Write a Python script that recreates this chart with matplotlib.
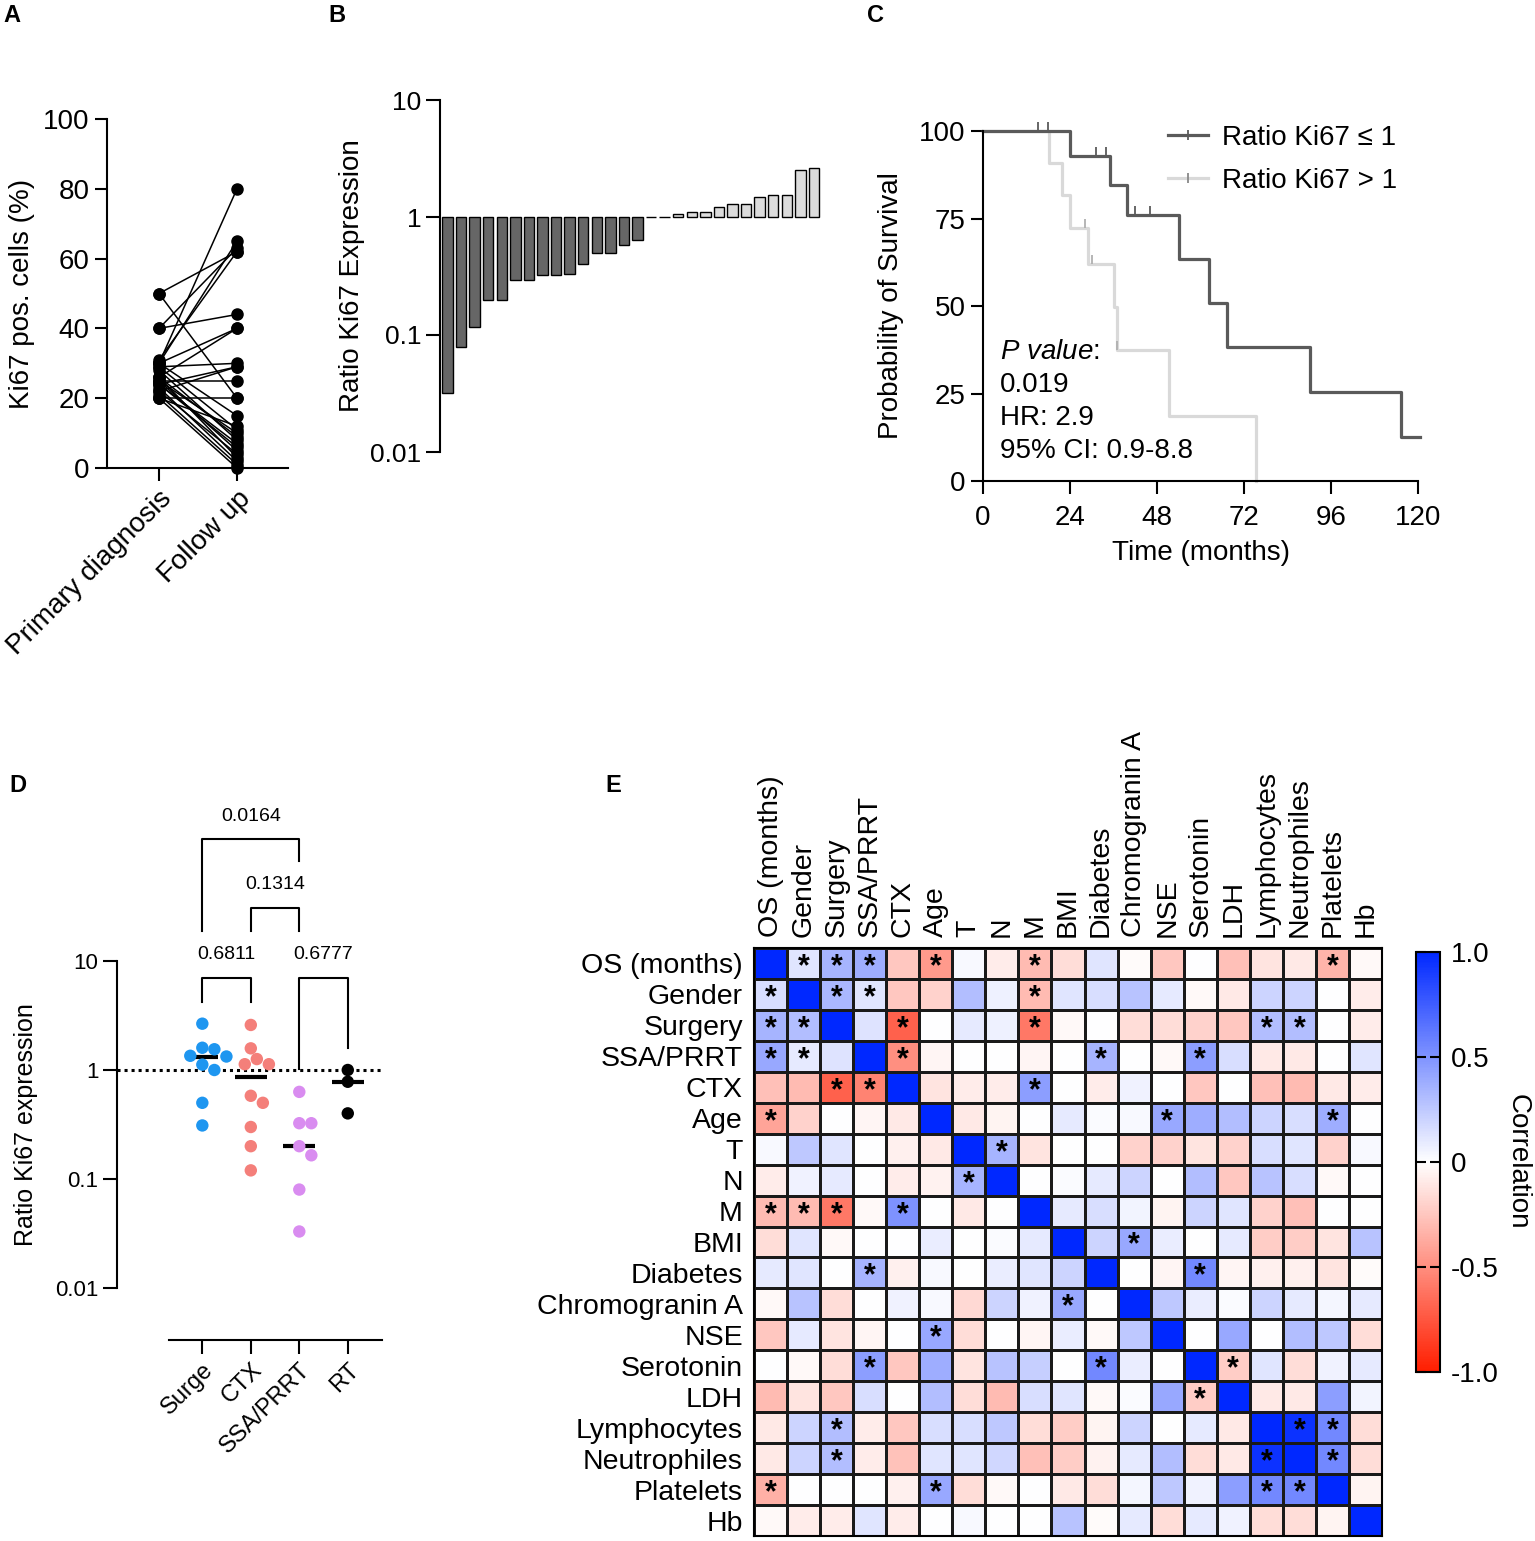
import matplotlib
matplotlib.use('Agg')
import matplotlib.pyplot as plt
from matplotlib.colors import LinearSegmentedColormap
from matplotlib.lines import Line2D
from matplotlib.ticker import NullLocator
import numpy as np

plt.rcParams['font.family'] = ['Liberation Sans', 'DejaVu Sans']
plt.rcParams['mathtext.fontset'] = 'custom'
plt.rcParams['mathtext.it'] = 'Liberation Sans:italic'
plt.rcParams['mathtext.rm'] = 'Liberation Sans'

W, H = 1535, 1541

# ---- A: paired Ki67 values
ki67_primary = [50, 50, 40, 40, 31, 30, 30, 30, 29, 29, 28, 26, 26, 25,
                25, 25, 24, 24, 23, 22, 22, 21, 20, 20, 20, 30, 26, 24]
ki67_followup = [62, 20, 44, 63, 62, 80, 65, 40, 30, 11, 8, 40, 3, 25,
                 10, 5, 29, 6, 2, 29, 4, 1, 20, 0, 12, 15, 9, 7]
a_labels = ['Primary diagnosis', 'Follow up']

# ---- B: waterfall of ratios
ratio_sorted = [0.032, 0.078, 0.116, 0.197, 0.197, 0.294, 0.294, 0.32, 0.32,
                0.33, 0.40, 0.50, 0.50, 0.58, 0.64, 1.0, 1.0, 1.07, 1.12,
                1.12, 1.23, 1.30, 1.30, 1.48, 1.56, 1.56, 2.55, 2.63]

# ---- C: Kaplan-Meier
km_low_t = [0, 24, 35, 39.7, 54.2, 62.3, 67.4, 90.3, 115.4, 120.5]
km_low_s = [100, 93, 84.5, 76, 63.5, 50.8, 38.2, 25.3, 12.6, 12.6]
km_low_cens_t = [15.2, 18, 31.2, 34, 42, 46]
km_low_cens_s = [100, 100, 93, 93, 76, 76]
km_high_t = [0, 18.3, 21.7, 24, 29, 36.2, 36.9, 51.2, 75.2]
km_high_s = [100, 90.8, 81.6, 72.3, 62, 49.6, 37.4, 18.6, 0]
km_high_cens_t = [28.2, 30.2, 37.1]
km_high_cens_s = [72.3, 62, 37.4]
km_stats = ['0.019', 'HR: 2.9', '95% CI: 0.9-8.8']

# ---- D: ratio by treatment
treat_groups = ['Surge', 'CTX', 'SSA/PRRT', 'RT']
ratio_surgery = [2.66, 1.6, 1.55, 1.35, 1.33, 1.12, 1.0, 0.5, 0.31]
ratio_ctx = [2.59, 1.58, 1.26, 1.13, 1.13, 0.58, 0.50, 0.30, 0.20, 0.12]
ratio_ssa = [0.63, 0.325, 0.325, 0.20, 0.165, 0.08, 0.033]
ratio_rt = [1.0, 0.78, 0.40]
treat_colors = ['#1e96f0', '#f47f7a', '#d98cf0', '#000000']
comparisons = [(0, 2, '0.0164'), (1, 2, '0.1314'), (0, 1, '0.6811'), (2, 3, '0.6777')]
# bracket layout: top, left leg end, right leg end, label height
bracket_top = [131.6, 30.6, 6.98, 6.98]
bracket_left = [18.8, 18.8, 4.2, 1.02]
bracket_right = [82.7, 18.8, 4.2, 1.59]
bracket_text = [10 ** 2.33, 10 ** 1.706, 10 ** 1.06, 10 ** 1.06]

# ---- E: correlation matrix
corr_labels = ['OS (months)', 'Gender', 'Surgery', 'SSA/PRRT', 'CTX', 'Age', 'T', 'N',
               'M', 'BMI', 'Diabetes', 'Chromogranin A', 'NSE', 'Serotonin', 'LDH',
               'Lymphocytes', 'Neutrophiles', 'Platelets', 'Hb']
corr = [
    [1, .12, .35, .38, -.25, -.45, .03, -.08, -.3, -.15, .12, -.02, -.25, 0, -.28, -.12, -.1, -.33, -.03],
    [.15, 1, .33, .12, -.25, -.2, .3, .07, -.3, .12, .15, .28, .1, -.03, -.1, .2, .2, 0, -.08],
    [.35, .3, 1, .13, -.7, 0, .1, .07, -.6, -.03, 0, -.15, -.15, -.2, -.25, .3, .3, 0, -.08],
    [.4, .1, .13, 1, -.5, -.04, 0, 0, -.04, 0, .35, 0, -.03, .45, .15, -.1, -.1, 0, .12],
    [-.28, -.3, -.7, -.55, 1, -.12, -.08, -.08, .45, 0, -.08, .06, 0, -.25, 0, -.28, -.3, -.1, -.08],
    [-.4, -.2, 0, -.04, -.1, 1, -.1, -.05, 0, .1, .02, .03, .4, .38, .3, .2, .15, .38, 0],
    [.03, .25, .12, 0, -.07, -.1, 1, .35, -.12, 0, 0, -.2, -.2, -.12, -.2, .15, .12, -.2, .03],
    [-.08, .06, .1, 0, -.08, -.06, .35, 1, 0, .02, .1, .2, 0, .3, -.25, .28, .15, -.03, 0],
    [-.3, -.3, -.6, -.03, .5, 0, -.1, 0, 1, .1, .15, .05, -.05, .2, .12, -.2, -.28, 0, 0],
    [-.15, .12, -.03, 0, 0, .08, 0, .02, .1, 1, .2, .4, .08, 0, .1, -.22, -.22, -.12, .28],
    [.1, .12, 0, .35, -.07, .03, 0, .08, .12, .2, 1, 0, -.04, .55, -.04, -.07, -.07, -.12, -.02],
    [-.03, .28, -.15, 0, .06, .03, -.17, .2, .06, .4, 0, 1, .25, .08, .02, .2, .1, .04, .1],
    [-.25, .1, -.12, -.04, 0, .4, -.15, 0, -.04, .08, -.03, .25, 1, 0, .4, 0, .3, .25, -.15],
    [0, -.03, -.15, .45, -.25, .38, -.12, .28, .22, 0, .55, .08, 0, 1, -.22, .12, -.15, .06, .1],
    [-.3, -.12, -.25, .15, 0, .3, -.15, -.3, .15, .12, -.03, .02, .4, -.22, 1, -.1, -.1, .45, .05],
    [-.1, .2, .3, -.08, -.25, .15, .15, .25, -.15, -.22, -.05, .2, 0, .1, -.1, 1, .95, .55, -.15],
    [-.1, .2, .3, -.08, -.27, .12, .12, .18, -.28, -.22, -.06, .1, .3, -.15, -.1, .95, 1, .55, -.15],
    [-.35, 0, 0, 0, -.07, .4, -.15, -.03, 0, -.1, -.15, .04, .25, .06, .45, .55, .55, 1, -.05],
    [-.03, -.08, -.08, .12, -.08, 0, .03, 0, 0, .28, -.02, .1, -.15, .1, .06, -.15, -.15, -.05, 1],
]
corr_sig = [[1, 2, 3, 5, 8, 17], [0, 2, 3, 8], [0, 1, 4, 8, 15, 16], [0, 1, 4, 10, 13],
            [2, 3, 8], [0, 12, 17], [7], [6], [0, 1, 2, 4], [11], [3, 13], [9], [5],
            [3, 10, 14], [13], [2, 16, 17], [2, 15, 17], [0, 5, 15, 16], []]


fig = plt.figure(figsize=(W / 100, H / 100), dpi=100)


def px_axes(l, t, r, b):
    return fig.add_axes([l / W, 1 - b / H, (r - l) / W, (b - t) / H])


def style(ax, lw=1.5):
    for s in ['top', 'right']:
        ax.spines[s].set_visible(False)
    for s in ['left', 'bottom']:
        ax.spines[s].set_linewidth(lw)


# ---------------- A
axA = px_axes(107, 119, 288, 468)
for p, f in zip(ki67_primary, ki67_followup):
    axA.plot([0, 1], [p, f], color='k', lw=1.1, marker='o', ms=8, clip_on=False)
axA.set_xlim(-0.667, 1.654)
axA.set_ylim(0, 100)
axA.set_yticks([0, 20, 40, 60, 80, 100])
axA.set_xticks([0, 1])
axA.set_xticklabels(a_labels, rotation=45, ha='right', rotation_mode='anchor')
axA.tick_params(length=9, width=1.5, labelsize=20)
axA.set_ylabel('Ki67 pos. cells (%)', fontsize=20, labelpad=6)
style(axA)

# ---------------- B
axB = px_axes(440, 100, 822, 452)
xb = np.arange(len(ratio_sorted))
bcol = ['#666666' if r < 1 else '#dcdcdc' for r in ratio_sorted]
axB.bar(xb, np.array(ratio_sorted) - 1, bottom=1, width=0.77, color=bcol,
        edgecolor='black', linewidth=1)
axB.set_yscale('log')
axB.set_ylim(0.01, 10)
axB.set_xlim(-0.556, 27.6)
axB.yaxis.set_minor_locator(NullLocator())
axB.set_yticks([0.01, 0.1, 1, 10])
axB.set_yticklabels(['0.01', '0.1', '1', '10'])
axB.set_xticks([])
axB.spines['bottom'].set_visible(False)
axB.tick_params(length=10, width=1.5, labelsize=19)
axB.set_ylabel('Ratio Ki67 Expression', fontsize=20)
style(axB)

# ---------------- C
axC = px_axes(983, 131, 1418, 481)
dark, light = '#5a5a5a', '#d9d9d9'
axC.step(km_high_t, km_high_s, where='post', color=light, lw=2.3, clip_on=False)
axC.step(km_low_t, km_low_s, where='post', color=dark, lw=2.3, clip_on=False)
axC.vlines(km_low_cens_t, km_low_cens_s, np.array(km_low_cens_s) + 2.5, color=dark, lw=1.3,
           clip_on=False)
axC.vlines(km_high_cens_t, km_high_cens_s, np.array(km_high_cens_s) + 2.5, color='#b0b0b0',
           lw=1.3, clip_on=False)
axC.set_xlim(0, 120)
axC.set_ylim(0, 100)
axC.set_xticks([0, 24, 48, 72, 96, 120])
axC.set_yticks([0, 25, 50, 75, 100])
axC.tick_params(length=9, width=1.5, labelsize=20)
axC.tick_params(axis='x', pad=8)
axC.set_xlabel('Time (months)', fontsize=20, labelpad=7)
axC.set_ylabel('Probability of Survival', fontsize=20, labelpad=11)
style(axC)
handles = [Line2D([], [], color=dark, lw=2.3, marker='|', ms=7, mew=1.3),
           Line2D([], [], color=light, lw=2.3, marker='|', ms=7, mew=1.3, mec='#888888')]
fig.legend(handles, ['Ratio Ki67 \u2264 1', 'Ratio Ki67 > 1'], loc='upper left',
           bbox_to_anchor=(1168 / W, 1 - 125 / H), bbox_transform=fig.transFigure,
           frameon=False, fontsize=20, handlelength=1.45, handletextpad=0.5,
           borderpad=0, borderaxespad=0, labelspacing=0.6)
axC.text(4.7, 36.9, r'$\it{P\ value}$:', fontsize=20, va='center')
for k, s in enumerate(km_stats):
    axC.text(4.7, 36.9 - (k + 1) * 9.45, s, fontsize=20, va='center')

# ---------------- D
axD = px_axes(117, 797, 382, 1340)
axD.set_yscale('log')
axD.set_ylim(10 ** (-270 / 109), 10 ** (273 / 109))
axD.set_xlim(-1.76, 3.706)
axD.axhline(1, color='k', lw=2.2, ls=(0, (1, 1.3)), zorder=1)
px_x, px_dec, diam = 48.3, 109.0, 12.0
groups = [ratio_surgery, ratio_ctx, ratio_ssa, ratio_rt]
for gi, vals in enumerate(groups):
    placed = []
    xs = []
    for v in vals:
        y = np.log10(v) * px_dec
        for k in [0, 1, -1, 2, -2, 3, -3, 4, -4]:
            x = k * diam * 0.5
            if all((x - px) ** 2 + (y - py) ** 2 >= (diam * 0.92) ** 2 for px, py in placed):
                break
        placed.append((x, y))
        xs.append(gi + x / px_x)
    axD.hlines(np.median(vals), gi - 0.33, gi + 0.33, color='k', lw=3, zorder=2)
    axD.scatter(xs, vals, s=80, color=treat_colors[gi], edgecolors='none', zorder=3)
for (i, j, txt), top, yl, yr, yt in zip(comparisons, bracket_top, bracket_left,
                                         bracket_right, bracket_text):
    axD.plot([i, i, j, j], [yl, top, top, yr], color='k', lw=1.5, clip_on=False)
    axD.text((i + j) / 2, yt, txt, ha='center', va='center', fontsize=14)
axD.yaxis.set_minor_locator(NullLocator())
axD.set_yticks([0.01, 0.1, 1, 10])
axD.set_yticklabels(['0.01', '0.1', '1', '10'])
axD.set_xticks(range(len(treat_groups)))
axD.set_xticklabels(treat_groups, rotation=45, ha='right', rotation_mode='anchor')
axD.tick_params(length=10, width=1.5, labelsize=16)
axD.tick_params(axis='x', labelsize=17)
style(axD)
axD.spines['left'].set_bounds(0.01, 10)
axD.spines['bottom'].set_bounds(-0.683, 3.706)
axD.set_ylabel('Ratio Ki67 expression', fontsize=18)
axD.yaxis.set_label_coords(-0.30, 0.396)

# ---------------- E
cmap = LinearSegmentedColormap.from_list('rwb', ['#ff1e00', '#ffffff', '#0028ff'])
axE = px_axes(754, 948, 1382, 1536)
n = len(corr_labels)
mesh = axE.pcolormesh(np.arange(n + 1), np.arange(n + 1), np.array(corr), cmap=cmap,
                      vmin=-1, vmax=1, edgecolors='#1a1a1a', linewidth=1.0)
axE.set_xlim(0, n)
axE.set_ylim(n, 0)
axE.xaxis.tick_top()
axE.set_xticks(np.arange(n) + 0.5)
axE.set_xticklabels(corr_labels, rotation=90)
axE.set_yticks(np.arange(n) + 0.5)
axE.set_yticklabels(corr_labels)
axE.tick_params(length=0, labelsize=20.5, pad=8)
for s in axE.spines.values():
    s.set_linewidth(1.5)
for r, cols in enumerate(corr_sig):
    for c in cols:
        axE.text(c + 0.5, r + 0.62, '*', ha='center', va='center', fontsize=22,
                 fontweight='bold')

cax = px_axes(1416, 952, 1440, 1372)
cb = fig.colorbar(mesh, cax=cax)
cb.set_ticks([1, 0.5, 0, -0.5, -1])
cb.ax.set_yticklabels(['1.0', '0.5', '0', '-0.5', '-1.0'])
cb.ax.tick_params(direction='in', left=True, right=True, length=7, width=1.5,
                  labelsize=20, pad=8)
cb.outline.set_linewidth(1.5)
cax.text(4.25, 0.5, 'Correlation', rotation=270, ha='center', va='center',
         fontsize=20, transform=cax.transAxes)

# ---------------- panel letters
for lab, x, y in [('A', 12, 15), ('B', 337, 15), ('C', 876, 15), ('D', 18, 785), ('E', 613, 785)]:
    fig.text(x / W, 1 - y / H, lab, fontsize=17, fontweight='bold', ha='center', va='center')

fig.savefig('out.png', dpi=100)
